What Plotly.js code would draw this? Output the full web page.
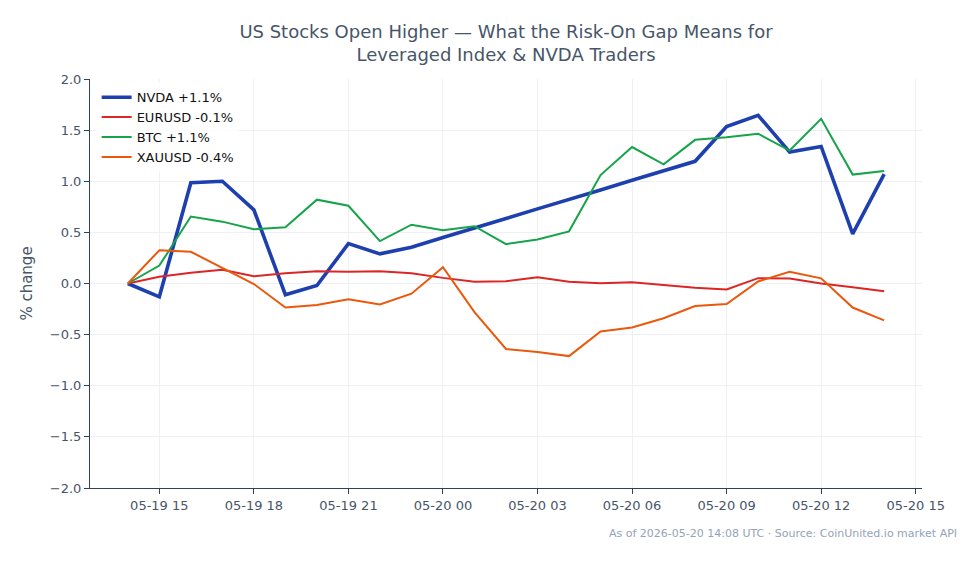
<!DOCTYPE html>
<html>
<head>
<meta charset="utf-8">
<script src="https://cdn.plot.ly/plotly-3.0.1.min.js"></script>
<style>
  html, body { margin: 0; padding: 0; background: #ffffff; }
  #chart { width: 979px; height: 564px; }
</style>
</head>
<body>
<div id="chart"></div>
<script>
// Hourly timestamps (UTC), 05-19 14:00 through 05-20 14:00
const times = [
  '2026-05-19 14:00', '2026-05-19 15:00', '2026-05-19 16:00', '2026-05-19 17:00',
  '2026-05-19 18:00', '2026-05-19 19:00', '2026-05-19 20:00', '2026-05-19 21:00',
  '2026-05-19 22:00', '2026-05-19 23:00', '2026-05-20 00:00', '2026-05-20 01:00',
  '2026-05-20 02:00', '2026-05-20 03:00', '2026-05-20 04:00', '2026-05-20 05:00',
  '2026-05-20 06:00', '2026-05-20 07:00', '2026-05-20 08:00', '2026-05-20 09:00',
  '2026-05-20 10:00', '2026-05-20 11:00', '2026-05-20 12:00', '2026-05-20 13:00',
  '2026-05-20 14:00'
];

// % change from the first hour
const nvda = [0, -0.13, 0.985, 1.0, 0.72, -0.11, -0.02, 0.39, 0.29, 0.355, 0.45, 0.54,
  0.635, 0.73, 0.82, 0.915, 1.01, 1.10, 1.195, 1.535, 1.645, 1.285, 1.34, 0.485, 1.07];
const eurusd = [0, 0.065, 0.105, 0.135, 0.07, 0.1, 0.12, 0.115, 0.12, 0.1, 0.055, 0.018,
  0.022, 0.062, 0.018, 0.003, 0.012, -0.015, -0.042, -0.058, 0.052, 0.05, 0.0, -0.037, -0.076];
const btc = [0, 0.175, 0.655, 0.605, 0.53, 0.55, 0.82, 0.76, 0.415, 0.575, 0.52, 0.56,
  0.385, 0.43, 0.51, 1.06, 1.335, 1.165, 1.405, 1.43, 1.465, 1.30, 1.61, 1.065, 1.10];
const xauusd = [0, 0.325, 0.31, 0.155, -0.005, -0.235, -0.21, -0.155, -0.205, -0.10, 0.16, -0.28,
  -0.64, -0.67, -0.71, -0.47, -0.43, -0.34, -0.22, -0.2, 0.02, 0.115, 0.05, -0.235, -0.36];

const seriesNames = ['NVDA', 'EURUSD', 'BTC', 'XAUUSD'];
const seriesValues = [nvda, eurusd, btc, xauusd];
const seriesColors = ['#1e40af', '#dc2626', '#16a34a', '#ea580c'];
const seriesWidths = [3.6, 2, 2, 2];

const yTickVals = [-2, -1.5, -1, -0.5, 0, 0.5, 1, 1.5, 2];

function pctLabel(name, vals) {
  const last = vals[vals.length - 1];
  const sign = last >= 0 ? '+' : '-';
  return name + ' ' + sign + Math.abs(last).toFixed(1) + '%';
}

const traces = seriesNames.map((name, i) => ({
  type: 'scatter',
  mode: 'lines',
  x: times,
  y: seriesValues[i],
  name: pctLabel(name, seriesValues[i]),
  line: { color: seriesColors[i], width: seriesWidths[i] },
  hoverinfo: 'x+y+name'
}));

const axisColor = '#334155';
const tickFontColor = '#475569';
const gridColor = '#eef0f4';

const layout = {
  width: 979,
  height: 564,
  paper_bgcolor: '#ffffff',
  plot_bgcolor: '#ffffff',
  font: { family: 'DejaVu Sans, sans-serif', size: 13, color: tickFontColor },
  margin: { l: 90, r: 57, t: 79, b: 76 },
  title: {
    text: 'US Stocks Open Higher — What the Risk-On Gap Means for<br>Leveraged Index & NVDA Traders',
    font: { family: 'DejaVu Sans, sans-serif', size: 18, color: '#475569' },
    xref: 'paper', x: 0.5, xanchor: 'center',
    yref: 'container', y: 0.933, yanchor: 'middle'
  },
  showlegend: true,
  legend: {
    x: 0.008, y: 0.992, xanchor: 'left', yanchor: 'top',
    bgcolor: 'rgba(255,255,255,0.8)',
    borderwidth: 0,
    font: { family: 'DejaVu Sans, sans-serif', size: 13, color: '#111111' },
    tracegroupgap: 0
  },
  xaxis: {
    type: 'date',
    range: ['2026-05-19 12:48', '2026-05-20 15:12'],
    tick0: '2026-05-19 15:00',
    dtick: 3 * 3600 * 1000,
    tickformat: '%m-%d %H',
    ticks: 'outside', ticklen: 5, tickwidth: 1, tickcolor: axisColor,
    showline: true, linecolor: axisColor, linewidth: 1,
    showgrid: true, gridcolor: gridColor, gridwidth: 1,
    zeroline: false,
    tickfont: { size: 13, color: tickFontColor }
  },
  yaxis: {
    range: [-2, 2],
    tickvals: yTickVals,
    tickformat: '.1f',
    ticks: 'outside', ticklen: 5, tickwidth: 1, tickcolor: axisColor,
    showline: true, linecolor: axisColor, linewidth: 1,
    showgrid: true, gridcolor: gridColor, gridwidth: 1,
    zeroline: false,
    tickfont: { size: 13, color: tickFontColor },
    title: { text: '% change', font: { size: 15, color: tickFontColor }, standoff: 13 }
  },
  shapes: [{
    type: 'line', xref: 'paper', x0: 0, x1: 1, yref: 'y', y0: 0, y1: 0,
    line: { color: '#94a3b8', width: 1.2, dash: 'dash' },
    layer: 'below'
  }],
  annotations: [{
    text: 'As of 2026-05-20 14:08 UTC · Source: CoinUnited.io market API',
    xref: 'paper', x: 1.044, xanchor: 'right',
    yref: 'paper', y: -0.112, yanchor: 'middle',
    showarrow: false,
    font: { family: 'DejaVu Sans, sans-serif', size: 11, color: '#94a3b8' }
  }]
};

Plotly.newPlot('chart', traces, layout, { displayModeBar: false, responsive: false });
</script>
</body>
</html>
